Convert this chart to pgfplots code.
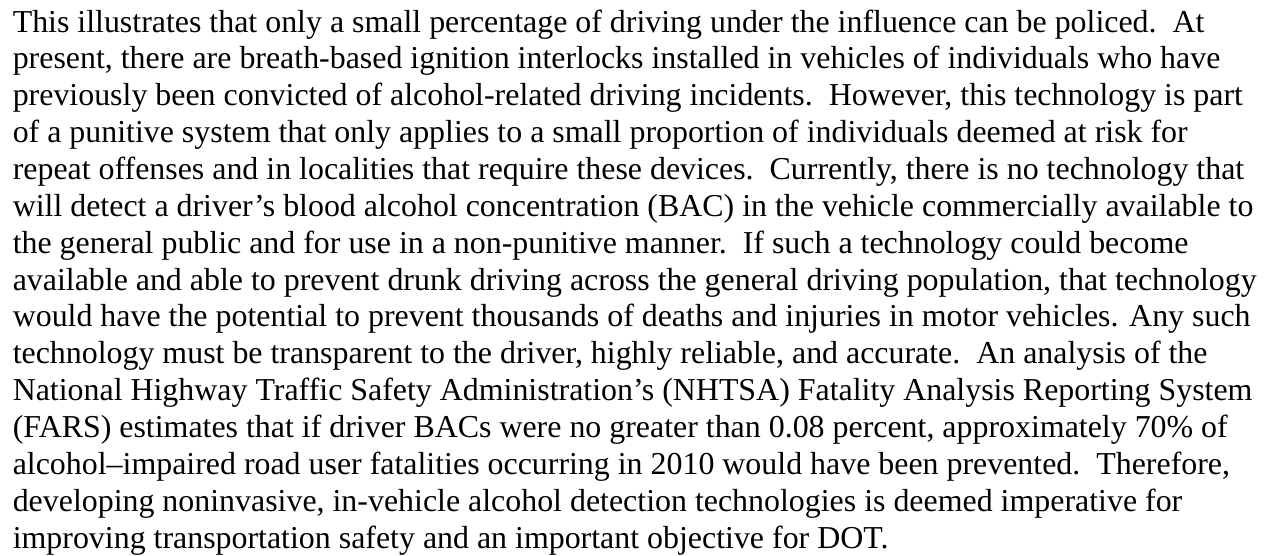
\documentclass[border=0pt]{standalone}
\usepackage{fontspec}
\setmainfont{Liberation Serif}
\usepackage{pgfplots}
\pgfplotsset{compat=1.18}
\newlength\refw
\begin{document}
\settowidth\refw{\fontsize{12}{14}\selectfont available and able to prevent drunk driving across the general driving population, that technology}%
\pgfmathsetmacro\fs{12*458/\refw}%
\begin{tikzpicture}
\begin{axis}[
  width=468pt, height=204.4pt, scale only axis,
  axis lines=none, xmin=0, xmax=468, ymin=0, ymax=204.4,
  clip=false]
\node[anchor=base west, inner sep=0pt, align=left,
      font=\fontsize{\fs}{13.57}\selectfont]
  at (axis cs:4.5,2.6) {%
This illustrates that only a small percentage of driving under the influence can be policed.\ \ At\\
present, there are breath-based ignition interlocks installed in vehicles of individuals who have\\
previously been convicted of alcohol-related driving incidents.\ \ However, this technology is part\\
of a punitive system that only applies to a small proportion of individuals deemed at risk for\\
repeat offenses and in localities that require these devices.\ \ Currently, there is no technology that\\
will detect a driver’s blood alcohol concentration (BAC) in the vehicle commercially available to\\
the general public and for use in a non-punitive manner.\ \ If such a technology could become\\
available and able to prevent drunk driving across the general driving population, that technology\\
would have the potential to prevent thousands of deaths and injuries in motor vehicles. Any such\\
technology must be transparent to the driver, highly reliable, and accurate.\ \ An analysis of the\\
National Highway Traffic Safety Administration’s (NHTSA) Fatality Analysis Reporting System\\
(FARS) estimates that if driver BACs were no greater than 0.08 percent, approximately 70\% of\\
alcohol--impaired road user fatalities occurring in 2010 would have been prevented.\ \ Therefore,\\
developing noninvasive, in-vehicle alcohol detection technologies is deemed imperative for\\
improving transportation safety and an important objective for DOT.};
\end{axis}
\pgfresetboundingbox
\useasboundingbox (0,0) rectangle (468pt,204.4pt);
\end{tikzpicture}
\end{document}
